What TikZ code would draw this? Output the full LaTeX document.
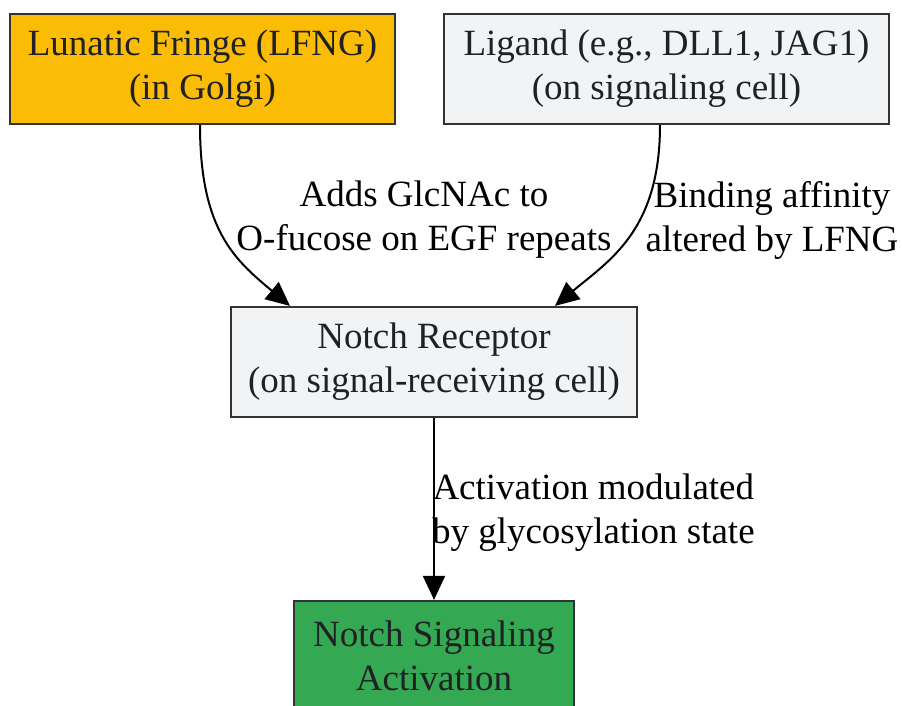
\documentclass[tikz,border=0pt]{standalone}
\usepackage{fontspec}
\setmainfont{Liberation Serif}
\usetikzlibrary{arrows.meta,shapes}
\definecolor{lfngfill}{HTML}{FBBC05}
\definecolor{greyfill}{HTML}{F1F3F4}
\definecolor{actfill}{HTML}{34A853}
\definecolor{boxline}{HTML}{333333}
\definecolor{boxtext}{HTML}{202124}
\tikzstyle{box}=[rectangle,draw=boxline,line width=1.1pt,text=boxtext,align=center,minimum height=55pt,inner sep=0pt,font=\fontsize{18.5}{22}\selectfont]
\tikzstyle{edge} = [draw,line width=1pt,-{Triangle[length=12pt,width=11pt]}]
\tikzstyle{weight} = [align=center,inner sep=0pt,font=\fontsize{18.5}{22}\selectfont]

\begin{document}
\begin{tikzpicture}[x=0.5pt,y=-0.5pt]

    \useasboundingbox (0,0) rectangle (902,706);

    \node[box, fill=lfngfill, minimum width=192.5pt] (lfng) at (202.5,69) {Lunatic Fringe (LFNG)\\(in Golgi)};
    \node[box, fill=greyfill, minimum width=222.5pt] (ligand) at (666.5,69) {Ligand (e.g., DLL1, JAG1)\\(on signaling cell)};
    \node[box, fill=greyfill, minimum width=203pt] (notch) at (434,362) {Notch Receptor\\(on signal-receiving cell)};
    \node[box, fill=actfill, minimum width=140pt] (act) at (434,656) {Notch Signaling\\Activation};

    \path[edge] (lfng.south -| 200,0) .. controls (200,230) and (235,260) .. (notch.north -| 290,0);
    \node[weight] (addlbl) at (424,220) {Adds GlcNAc to\\O-fucose on EGF repeats};

    \path[edge] (ligand.south -| 660,0) .. controls (660,230) and (610,260) .. (notch.north -| 555,0);
    \node[weight] (bindlbl) at (772,220) {Binding affinity\\altered by LFNG};

    \path[edge] (notch.south) -- node[weight, anchor=west, xshift=-1.5pt, yshift=-2pt] (actlbl) {Activation modulated\\by glycosylation state} (act.north);

\end{tikzpicture}
\end{document}
